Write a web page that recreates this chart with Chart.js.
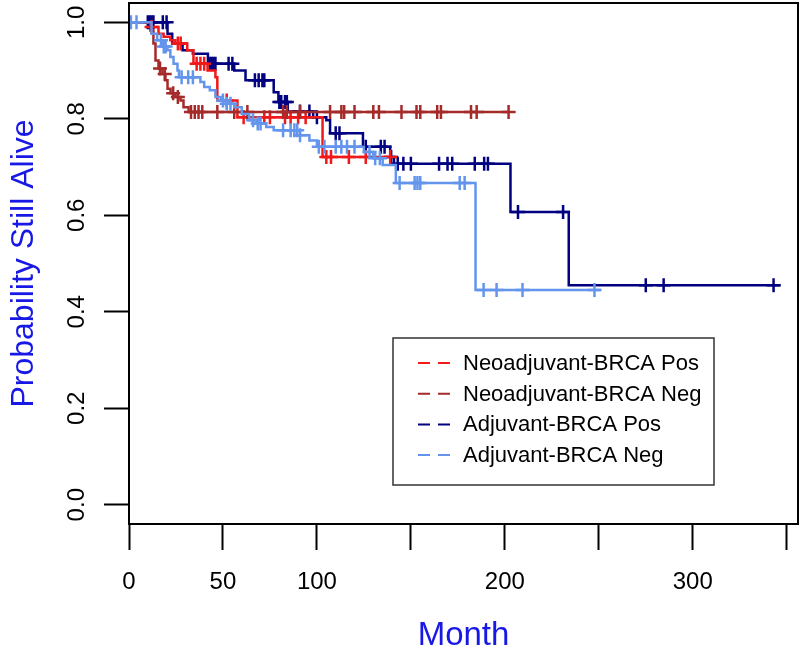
<!DOCTYPE html>
<html>
<head>
<meta charset="utf-8">
<script src="https://cdn.jsdelivr.net/npm/chart.js@4.4.0/dist/chart.umd.min.js"></script>
<style>
  html, body { margin: 0; padding: 0; background: #fff; }
</style>
</head>
<body>
<canvas id="km" width="800" height="653"></canvas>
<script>
// Kaplan-Meier curves: time (months) of each step, survival after the step
const neoPosTimes = [0, 11.4, 15.7, 18.4, 22, 24.7, 31, 34.3, 41.8, 46, 47, 57.7, 103];
const neoPosSurv  = [1, 0.99, 0.976, 0.97, 0.963, 0.956, 0.942, 0.914, 0.90, 0.886, 0.838, 0.803, 0.721];
const neoPosEnd = 139;
const neoPosCensor = [12, 26, 27.5, 36, 38, 40, 52, 61, 72, 75, 83, 86, 90, 94, 105, 107.5, 117, 126, 139];

const neoNegTimes = [0, 11.4, 13, 14.1, 15.7, 17.8, 19.4, 20.5, 22.1, 24.7, 27.4, 29, 31.7];
const neoNegSurv  = [1, 0.983, 0.956, 0.921, 0.904, 0.893, 0.880, 0.862, 0.853, 0.845, 0.838, 0.824, 0.814];
const neoNegEnd = 202;
const neoNegCensor = [16.5, 19, 23.5, 26, 33, 35, 37, 39, 47, 56, 63, 82, 84, 91, 107, 113, 114.5, 120,
  130, 133, 145, 153, 155, 164, 166, 182, 185, 202];

const adjPosTimes = [0, 20.5, 23, 28.5, 34, 42, 56, 62, 77, 79.5, 84.5, 98, 105, 107, 124.5, 139, 141, 203, 234];
const adjPosSurv  = [1, 0.976, 0.956, 0.942, 0.935, 0.914, 0.90, 0.88, 0.855, 0.835, 0.815, 0.803, 0.797,
  0.770, 0.742, 0.721, 0.707, 0.607, 0.455];
const adjPosEnd = 346.7;
const adjPosCensor = [10, 11, 12, 13, 18, 20, 43, 44, 45, 46, 53, 55, 67, 69, 71, 72, 80, 81, 83, 84, 91, 96,
  100, 110, 112, 126, 134, 136, 139.5, 143, 146, 150, 165, 169.5, 172, 184, 189, 191, 207, 231, 275, 284.5, 343];

const adjNegTimes = [0, 12, 15, 18, 20.5, 22, 23.7, 25.8, 26.6, 38, 40, 43, 46, 49, 52, 56, 60, 64, 68, 73, 77,
  91, 96, 100, 125, 130, 135, 142, 184.4];
const adjNegSurv  = [1, 0.976, 0.963, 0.950, 0.942, 0.928, 0.914, 0.90, 0.886, 0.876, 0.866, 0.859, 0.845,
  0.838, 0.831, 0.824, 0.810, 0.797, 0.790, 0.783, 0.776, 0.766, 0.755, 0.742, 0.731, 0.718, 0.704, 0.667, 0.445];
const adjNegEnd = 251;
const adjNegCensor = [1, 4, 17, 18.5, 19.5, 28, 31.5, 34, 50, 52, 54, 66, 68.5, 70, 82, 86, 88, 89.5, 91, 101,
  104, 110, 113, 116, 120, 128, 131, 133.5, 144, 152, 153.5, 155, 176, 178.6, 188.7, 195.6, 209.4, 247.7];

const seriesLabels = ['Neoadjuvant-BRCA Pos', 'Neoadjuvant-BRCA Neg', 'Adjuvant-BRCA Pos', 'Adjuvant-BRCA Neg'];

const xTicks = [0, 50, 100, 150, 200, 250, 300, 350];
const xTickLabels = ['0', '50', '100', '', '200', '', '300', ''];
const yTicks = [0, 0.2, 0.4, 0.6, 0.8, 1.0];
const yTickLabels = ['0.0', '0.2', '0.4', '0.6', '0.8', '1.0'];

// colours as in the R plot
const colors = ['#f01818', '#a52a2a', '#000080', '#6495ed'];

// survival value of a step curve at time t
function survAt(times, surv, t) {
  let s = surv[0];
  for (let i = 0; i < times.length; i++) {
    if (times[i] <= t) s = surv[i];
  }
  return s;
}

function curvePoints(times, surv, end) {
  const pts = times.map((t, i) => ({ x: t, y: surv[i] }));
  pts.push({ x: end, y: surv[surv.length - 1] });
  return pts;
}

function censorPoints(times, surv, cens) {
  return cens.map(t => ({ x: t, y: survAt(times, surv, t) }));
}

const groups = [
  [neoPosTimes, neoPosSurv, neoPosEnd, neoPosCensor],
  [neoNegTimes, neoNegSurv, neoNegEnd, neoNegCensor],
  [adjPosTimes, adjPosSurv, adjPosEnd, adjPosCensor],
  [adjNegTimes, adjNegSurv, adjNegEnd, adjNegCensor]
];

const datasets = [];
// navy drawn last so it sits on top
const drawOrder = [3, 2, 4, 1];
groups.forEach((g, i) => {
  datasets.push({
    label: seriesLabels[i],
    data: curvePoints(g[0], g[1], g[2]),
    showLine: true,
    stepped: 'before',
    borderColor: colors[i],
    borderWidth: 2.5,
    pointRadius: 0,
    fill: false,
    order: drawOrder[i]
  });
  datasets.push({
    label: seriesLabels[i] + ' censored',
    isCensor: true,
    data: censorPoints(g[0], g[1], g[3]),
    showLine: false,
    pointStyle: 'cross',
    pointRadius: 7,
    pointBorderWidth: 2.5,
    borderColor: colors[i],
    backgroundColor: colors[i],
    order: drawOrder[i]
  });
});

// box round the plot and the legend, R style
const frameLegend = {
  id: 'frameLegend',
  afterDraw(chart) {
    const { ctx, chartArea: a } = chart;
    ctx.save();
    ctx.strokeStyle = '#000';
    ctx.lineWidth = 2;
    ctx.strokeRect(a.left, a.top, a.right - a.left, a.bottom - a.top);

    ctx.lineWidth = 1.5;
    ctx.strokeStyle = '#333';
    ctx.strokeRect(393, 338, 321, 147);

    ctx.font = '22px "Liberation Sans", Arial, sans-serif';
    ctx.textBaseline = 'middle';
    ctx.textAlign = 'left';
    const curves = chart.data.datasets.filter(d => !d.isCensor);
    curves.forEach((d, i) => {
      const y = 363 + i * 30.7;
      ctx.strokeStyle = d.borderColor;
      ctx.lineWidth = 2;
      ctx.setLineDash([12, 8]);
      ctx.beginPath();
      ctx.moveTo(418, y);
      ctx.lineTo(450, y);
      ctx.stroke();
      ctx.setLineDash([]);
      ctx.fillStyle = '#000';
      ctx.fillText(d.label, 463, y + 1);
    });
    ctx.restore();
  }
};

new Chart(document.getElementById('km'), {
  type: 'scatter',
  data: { datasets: datasets },
  options: {
    responsive: false,
    animation: false,
    layout: { autoPadding: false, padding: { left: 0, top: 3, right: 2, bottom: 0 } },
    plugins: { legend: { display: false }, tooltip: { enabled: false } },
    scales: {
      x: {
        type: 'linear',
        min: 0,
        max: 356,
        afterBuildTicks: s => { s.ticks = xTicks.map(v => ({ value: v })); },
        afterFit: s => { s.height = 129; s.paddingLeft = 0; s.paddingRight = 0; },
        ticks: {
          autoSkip: false,
          maxRotation: 0,
          padding: 18,
          color: '#000',
          font: { family: '"Liberation Sans", Arial, sans-serif', size: 24 },
          callback: (v, i) => xTickLabels[i]
        },
        grid: { drawOnChartArea: false, drawTicks: true, tickLength: 26, tickWidth: 2, tickColor: '#000' },
        border: { display: false },
        title: {
          display: true,
          text: 'Month',
          color: '#1818e6',
          padding: { top: 0, bottom: 1 },
          font: { family: '"Liberation Sans", Arial, sans-serif', size: 33, lineHeight: 1 }
        }
      },
      y: {
        type: 'linear',
        min: -0.04,
        max: 1.04,
        afterBuildTicks: s => { s.ticks = yTicks.map(v => ({ value: v })); },
        afterFit: s => { s.width = 129; s.paddingTop = 0; s.paddingBottom = 0; },
        ticks: {
          autoSkip: false,
          minRotation: 90,
          maxRotation: 90,
          crossAlign: 'center',
          padding: 10,
          color: '#000',
          font: { family: '"Liberation Sans", Arial, sans-serif', size: 24 },
          callback: (v, i) => yTickLabels[i]
        },
        grid: { drawOnChartArea: false, drawTicks: true, tickLength: 25, tickWidth: 2, tickColor: '#000' },
        border: { display: false },
        title: {
          display: true,
          text: 'Probability Still Alive',
          color: '#1818e6',
          padding: { top: 8, bottom: 0 },
          font: { family: '"Liberation Sans", Arial, sans-serif', size: 32, lineHeight: 1 }
        }
      }
    }
  },
  plugins: [frameLegend]
});
</script>
</body>
</html>
